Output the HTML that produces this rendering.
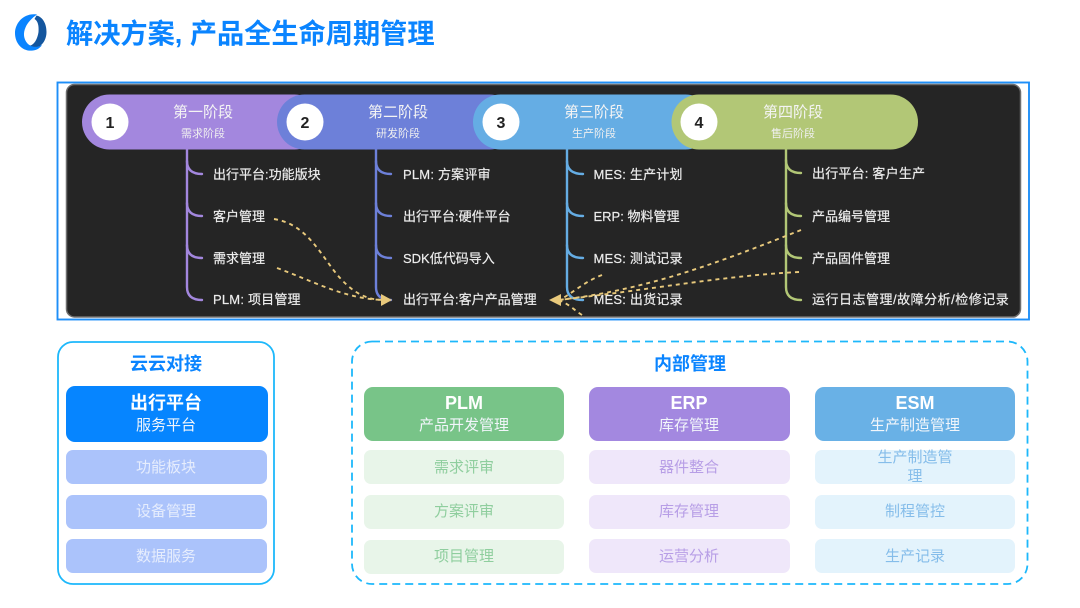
<!DOCTYPE html>
<html lang="zh">
<head>
<meta charset="utf-8">
<title>解决方案, 产品全生命周期管理</title>
<style>
html,body{margin:0;padding:0;background:#fff;width:1080px;height:608px;overflow:hidden}
svg{display:block;filter:blur(.3px)}
text{font-family:"Liberation Sans","Noto Sans CJK SC",sans-serif}
.m{text-anchor:middle}
.t{font-size:13px;fill:#ededed;stroke:#ededed;stroke-width:.2px}
.l{letter-spacing:.2px}
.h{font-size:15px;fill:#f4f4f4}
.s{font-size:11px;fill:#f0f0f0}
.n{font-size:16px;font-weight:700;fill:#222;text-anchor:middle}
.bt{font-size:18px;font-weight:700;fill:#fff;text-anchor:middle}
.bs{font-size:15px;fill:#f2f6fb;text-anchor:middle}
.c{font-size:15px;text-anchor:middle}
.sec{font-size:18px;font-weight:700;fill:#0a84ff;text-anchor:middle}
.d{fill:none;stroke:#e8c97c;stroke-width:1.9;stroke-dasharray:4 4}
.br{fill:none;stroke-width:2.4;stroke-linecap:round}
</style>
</head>
<body>
<svg width="1080" height="608" viewBox="0 0 1080 608" xmlns="http://www.w3.org/2000/svg">
<rect width="1080" height="608" fill="#fff"/>

<!-- logo -->
<path d="M37 14.500 C24 12.500 15 23 15 33 C15 44 23 52 33 50.500 C37 50 40 48 42 45 C37 47.500 31 47 27.500 43.500 C23.500 39 23 33 25.500 27.500 C27.500 22.500 32 18 37 14.500 Z" fill="#0a84ff"/>
<path d="M36.500 15.500 C43 17 46.500 24 46.500 32 C46.500 38 44 43 40 46 C36 47.500 33 47 30 45.500 C34 45 37.500 39 38.500 32 C39 26 38 21 34.500 19 Z" fill="#14569e"/>

<text x="66" y="43" font-size="27.200" font-weight="700" fill="#0a84ff">解决方案, 产品全生命周期管理</text>

<!-- top panel -->
<rect x="57.500" y="82.500" width="971.500" height="237" fill="#fff" stroke="#1e8ff8" stroke-width="1.900"/>
<rect x="66.500" y="84.500" width="954" height="232.500" rx="8" fill="#252525" stroke="#6e6e6e" stroke-width="1.500"/>

<!-- pills -->
<rect x="82" y="94.500" width="240" height="55" rx="27.500" fill="#a387de"/>
<rect x="277" y="94.500" width="240" height="55" rx="27.500" fill="#6d80d9"/>
<rect x="473" y="94.500" width="240" height="55" rx="27.500" fill="#65ade4"/>
<rect x="671.500" y="94.500" width="246.500" height="55" rx="27.500" fill="#b2c776"/>

<circle cx="110" cy="122" r="18.500" fill="#fff"/>
<circle cx="305" cy="122" r="18.500" fill="#fff"/>
<circle cx="501" cy="122" r="18.500" fill="#fff"/>
<circle cx="699" cy="122" r="18.500" fill="#fff"/>
<text x="110" y="128" class="n">1</text>
<text x="305" y="128" class="n">2</text>
<text x="501" y="128" class="n">3</text>
<text x="699" y="128" class="n">4</text>

<text x="203" y="117" class="h m">第一阶段</text>
<text x="203" y="137" class="s m">需求阶段</text>
<text x="398" y="117" class="h m">第二阶段</text>
<text x="398" y="137" class="s m">研发阶段</text>
<text x="594" y="117" class="h m">第三阶段</text>
<text x="594" y="137" class="s m">生产阶段</text>
<text x="793" y="117" class="h m">第四阶段</text>
<text x="793" y="137" class="s m">售后阶段</text>

<!-- branches -->
<g class="br" stroke="#a387de">
<path d="M187 149 V287 Q187 300 202 300"/>
<path d="M187 161 Q187 174 202 174"/>
<path d="M187 203 Q187 216 202 216"/>
<path d="M187 245 Q187 258 202 258"/>
</g>
<g class="br" stroke="#6d80d9">
<path d="M376 149 V287 Q376 300 391 300"/>
<path d="M376 161 Q376 174 391 174"/>
<path d="M376 203 Q376 216 391 216"/>
<path d="M376 245 Q376 258 391 258"/>
</g>
<g class="br" stroke="#65ade4">
<path d="M567 149 V287 Q567 300 583 300"/>
<path d="M567 161 Q567 174 583 174"/>
<path d="M567 203 Q567 216 583 216"/>
<path d="M567 245 Q567 258 583 258"/>
</g>
<g class="br" stroke="#b2c776">
<path d="M786 149 V287 Q786 300 801 300"/>
<path d="M786 160 Q786 173 801 173"/>
<path d="M786 203 Q786 216 801 216"/>
<path d="M786 245 Q786 258 801 258"/>
</g>

<!-- labels -->
<text x="213" y="179" class="t">出行平台:功能版块</text>
<text x="213" y="221" class="t">客户管理</text>
<text x="213" y="263" class="t">需求管理</text>
<text x="213" y="304" class="t l">PLM: 项目管理</text>

<text x="403" y="179" class="t l">PLM: 方案评审</text>
<text x="403" y="221" class="t">出行平台:硬件平台</text>
<text x="403" y="263" class="t">SDK低代码导入</text>
<text x="403" y="304" class="t">出行平台:客户产品管理</text>

<text x="593.500" y="179" class="t l">MES: 生产计划</text>
<text x="593.500" y="221" class="t">ERP: 物料管理</text>
<text x="593.500" y="263" class="t l">MES: 测试记录</text>
<text x="593.500" y="304" class="t l">MES: 出货记录</text>

<text x="812" y="178" class="t l">出行平台: 客户生产</text>
<text x="812" y="221" class="t">产品编号管理</text>
<text x="812" y="263" class="t">产品固件管理</text>
<text x="812" y="304" class="t" style="letter-spacing:.5px">运行日志管理/故障分析/检修记录</text>

<!-- dashed connectors -->
<path class="d" d="M274 219 C305 224 318 250 335 272 C350 291 365 300 384 300"/>
<path class="d" d="M277 268 C315 282 345 299 384 300"/>
<polygon points="381,294 392,300 381,306" fill="#e8c97c"/>
<path class="d" d="M801 230 C730 258 650 290 558 300"/>
<path class="d" d="M799 272 C720 276 650 290 558 300"/>
<path class="d" d="M602 275 C586 281 575 291 560 300"/>
<path class="d" d="M582 315 C574 310 568 303 558 300"/>
<polygon points="549,300 561,294 561,306" fill="#e8c97c"/>

<!-- left group -->
<rect x="58" y="342" width="216" height="242" rx="15" fill="#fff" stroke="#1db8fb" stroke-width="1.800"/>
<text x="166" y="370" class="sec">云云对接</text>
<rect x="66" y="386" width="202" height="56" rx="9" fill="#0685ff"/>
<text x="166" y="409" class="bt">出行平台</text>
<text x="166" y="430" class="bs">服务平台</text>
<rect x="66" y="450" width="201" height="34" rx="7" fill="#abc3fb"/>
<rect x="66" y="495" width="201" height="34" rx="7" fill="#abc3fb"/>
<rect x="66" y="539" width="201" height="34" rx="7" fill="#abc3fb"/>
<text x="166" y="472" class="c" fill="#e6edfd">功能板块</text>
<text x="166" y="516" class="c" fill="#e6edfd">设备管理</text>
<text x="166" y="561" class="c" fill="#e6edfd">数据服务</text>

<!-- right group -->
<rect x="352" y="341.500" width="675.500" height="242.500" rx="20" fill="#fff" stroke="#1db8fb" stroke-width="1.800" stroke-dasharray="8 5"/>
<text x="690" y="370" class="sec">内部管理</text>

<rect x="364" y="387" width="200" height="54" rx="9" fill="#78c488"/>
<text x="464" y="409" class="bt">PLM</text>
<text x="464" y="430" class="bs">产品开发管理</text>
<rect x="364" y="450" width="200" height="34" rx="7" fill="#e8f5e9"/>
<rect x="364" y="495" width="200" height="34" rx="7" fill="#e8f5e9"/>
<rect x="364" y="540" width="200" height="34" rx="7" fill="#e8f5e9"/>
<text x="464" y="472" class="c" fill="#8fce9e">需求评审</text>
<text x="464" y="516" class="c" fill="#8fce9e">方案评审</text>
<text x="464" y="561" class="c" fill="#8fce9e">项目管理</text>

<rect x="589" y="387" width="201" height="54" rx="9" fill="#a388e0"/>
<text x="689" y="409" class="bt">ERP</text>
<text x="689" y="430" class="bs">库存管理</text>
<rect x="589" y="450" width="201" height="34" rx="7" fill="#efe7fa"/>
<rect x="589" y="495" width="201" height="34" rx="7" fill="#efe7fa"/>
<rect x="589" y="539" width="201" height="34" rx="7" fill="#efe7fa"/>
<text x="689" y="472" class="c" fill="#b79ee6">器件整合</text>
<text x="689" y="516" class="c" fill="#b79ee6">库存管理</text>
<text x="689" y="561" class="c" fill="#b79ee6">运营分析</text>

<rect x="815" y="387" width="200" height="54" rx="9" fill="#69b1e6"/>
<text x="915" y="409" class="bt">ESM</text>
<text x="915" y="430" class="bs">生产制造管理</text>
<rect x="815" y="450" width="200" height="34" rx="7" fill="#e3f3fc"/>
<rect x="815" y="495" width="200" height="34" rx="7" fill="#e3f3fc"/>
<rect x="815" y="539" width="200" height="34" rx="7" fill="#e3f3fc"/>
<text x="915" y="462" class="c" fill="#85bdea">生产制造管</text>
<text x="915" y="481" class="c" fill="#85bdea">理</text>
<text x="915" y="516" class="c" fill="#85bdea">制程管控</text>
<text x="915" y="561" class="c" fill="#85bdea">生产记录</text>
</svg>
</body>
</html>
